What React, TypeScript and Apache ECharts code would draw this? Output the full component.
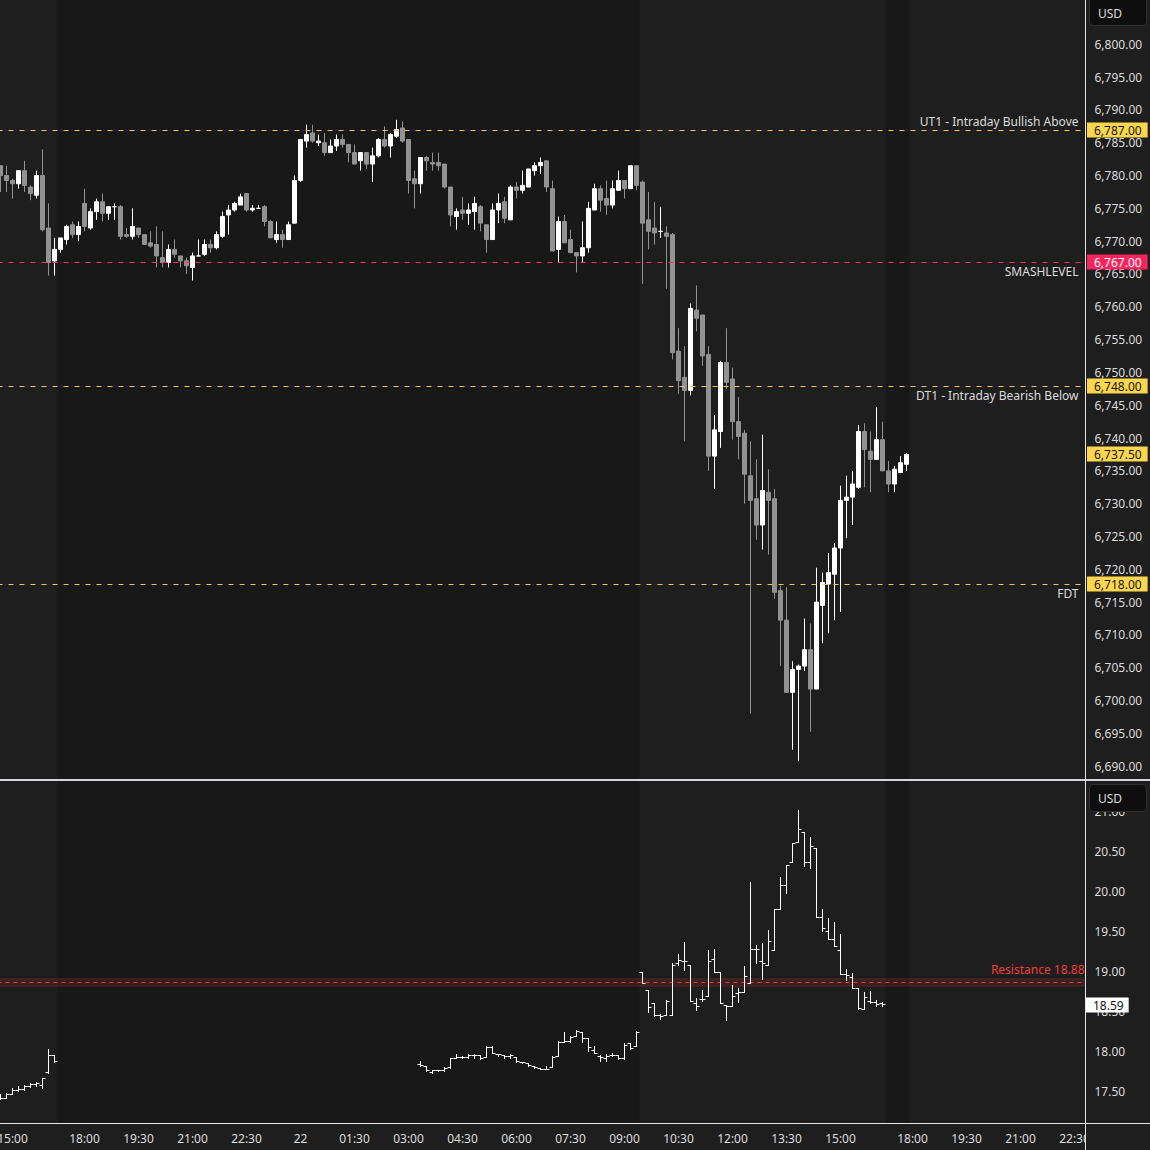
import React, { useEffect, useRef } from 'react';
import * as echarts from 'echarts';

// ---------- categories (10-minute bars) ----------
const sessions = [
  { day: '10-21', start: '14:40', bars: 14 },
  { day: '10-21', start: '18:00', bars: 36 },
  { day: '10-22', start: '00:00', bars: 102 },
  { day: '10-22', start: '18:00', bars: 29 },
];
function buildTimes(): string[] {
  const out: string[] = [];
  sessions.forEach((s) => {
    const [h, m] = s.start.split(':').map(Number);
    for (let k = 0; k < s.bars; k++) {
      const t = h * 60 + m + k * 10;
      out.push(`${s.day} ${String(Math.floor(t / 60)).padStart(2, '0')}:${String(t % 60).padStart(2, '0')}`);
    }
  });
  return out;
}
const times = buildTimes();

const xTickLabels = [
  '10-21 15:00', '10-21 18:00', '10-21 19:30', '10-21 21:00', '10-21 22:30',
  '10-22 00:00', '10-22 01:30', '10-22 03:00', '10-22 04:30', '10-22 06:00',
  '10-22 07:30', '10-22 09:00', '10-22 10:30', '10-22 12:00', '10-22 13:30',
  '10-22 15:00', '10-22 18:00', '10-22 19:30', '10-22 21:00', '10-22 22:30',
];
const esTicks = [6690, 6695, 6700, 6705, 6710, 6715, 6720, 6725, 6730, 6735, 6740, 6745, 6750, 6755, 6760, 6765, 6770, 6775, 6780, 6785, 6790, 6795, 6800, 6805];
const vixTicks = [17.5, 18, 18.5, 19, 19.5, 20, 20.5, 21];

// ---------- ES futures 10-min OHLC (from 10-21 14:40) ----------
const esOpen = [
  6781.5, 6780.0, 6779.25, 6778.75, 6780.75, 6778.25, 6777.0, 6780.0, 6772.0, 6767.0,
  6768.75, 6770.25, 6772.5, 6771.0, 6775.75, 6772.0, 6774.5, 6776.0, 6774.25, 6775.25,
  6775.25, 6771.0, 6770.75, 6772.0, 6771.0, 6769.75, 6769.5, 6767.5, 6766.75, 6768.75,
  6767.75, 6767.0, 6766.0, 6767.75, 6768.0, 6769.5, 6769.0, 6770.75, 6774.0, 6774.75,
  6775.5, 6777.25, 6774.75, 6775.0, 6775.25, 6773.0, 6770.25, 6771.0, 6770.25, 6772.75,
  6779.25, 6785.25, 6786.5, 6785.0, 6785.0, 6783.5, 6784.5, 6785.5, 6784.75, 6783.5,
  6782.25, 6783.5, 6781.75, 6783.0, 6785.5, 6784.5, 6786.0, 6787.25, 6785.5, 6779.5,
  6778.75, 6782.75, 6782.0, 6782.0, 6781.75, 6778.25, 6773.75, 6774.75, 6774.25, 6774.5,
  6775.25, 6772.5, 6770.25, 6774.75, 6776.0, 6773.25, 6778.25, 6777.75, 6778.25, 6780.75,
  6781.5, 6782.25, 6778.0, 6768.75, 6773.0, 6770.25, 6768.25, 6767.75, 6769.0, 6774.75,
  6778.0, 6776.5, 6775.5, 6777.75, 6779.25, 6778.0, 6781.5, 6779.0, 6773.25, 6772.0,
  6771.5, 6771.25, 6771.0, 6753.25, 6749.25, 6747.25, 6759.5, 6758.75, 6752.75, 6737.25,
  6741.0, 6751.5, 6749.0, 6742.5, 6740.75, 6734.25, 6730.75, 6726.75, 6731.75, 6730.75,
  6716.75, 6712.25, 6701.25, 6704.75, 6705.25, 6707.75, 6701.75, 6714.5, 6717.75, 6719.25,
  6723.25, 6730.5, 6731.0, 6732.5, 6741.0, 6738.0, 6736.75, 6739.75, 6735.0, 6733.0,
  6734.75, 6736.0,
];
const esHigh = [
  6781.5, 6781.5, 6779.5, 6780.75, 6782.25, 6778.5, 6780.75, 6784.0, 6775.75, 6770.5,
  6770.5, 6772.5, 6773.0, 6773.0, 6778.0, 6775.0, 6776.5, 6777.25, 6775.25, 6775.75,
  6775.5, 6772.0, 6775.0, 6772.0, 6771.0, 6771.5, 6772.25, 6771.5, 6769.5, 6770.25,
  6767.75, 6767.5, 6768.25, 6770.25, 6770.25, 6770.25, 6771.5, 6774.5, 6775.5, 6776.0,
  6777.25, 6777.25, 6775.5, 6775.5, 6775.5, 6773.25, 6773.0, 6771.75, 6773.0, 6780.0,
  6785.5, 6787.75, 6787.75, 6786.25, 6786.5, 6785.5, 6786.25, 6786.25, 6784.75, 6784.75,
  6783.5, 6783.5, 6784.25, 6785.75, 6787.5, 6786.5, 6788.5, 6788.25, 6785.5, 6780.75,
  6782.75, 6783.0, 6783.5, 6783.5, 6781.75, 6778.25, 6775.0, 6776.75, 6775.75, 6776.75,
  6775.5, 6772.5, 6775.75, 6777.25, 6776.75, 6778.5, 6779.0, 6780.75, 6781.0, 6782.0,
  6782.75, 6782.25, 6779.25, 6773.75, 6774.0, 6771.75, 6768.25, 6773.0, 6776.0, 6778.75,
  6778.5, 6779.25, 6779.25, 6780.75, 6779.25, 6781.5, 6781.5, 6779.25, 6777.5, 6776.0,
  6775.25, 6772.25, 6771.25, 6756.75, 6754.0, 6760.5, 6763.25, 6758.75, 6754.0, 6743.5,
  6751.75, 6756.75, 6750.75, 6746.25, 6741.25, 6739.5, 6736.75, 6740.5, 6735.25, 6732.25,
  6717.5, 6717.25, 6706.0, 6705.5, 6712.5, 6711.75, 6720.25, 6719.5, 6722.5, 6724.0,
  6732.75, 6734.25, 6735.0, 6742.0, 6742.25, 6741.0, 6744.75, 6742.5, 6736.5, 6735.75,
  6737.25, 6737.75,
];
const esLow = [
  6777.5, 6777.5, 6776.5, 6778.0, 6777.5, 6776.25, 6776.5, 6771.5, 6764.75, 6764.75,
  6768.25, 6769.5, 6770.5, 6770.0, 6771.5, 6771.75, 6773.25, 6773.0, 6773.25, 6773.25,
  6770.25, 6770.5, 6770.25, 6770.5, 6769.5, 6769.0, 6766.0, 6766.0, 6766.0, 6767.5,
  6766.0, 6765.0, 6764.0, 6767.75, 6767.75, 6768.25, 6768.75, 6770.5, 6771.0, 6774.5,
  6775.5, 6774.5, 6774.5, 6775.0, 6772.25, 6770.5, 6769.75, 6769.0, 6770.25, 6772.75,
  6779.0, 6784.25, 6785.0, 6784.5, 6783.0, 6783.5, 6783.75, 6784.25, 6782.0, 6781.75,
  6780.75, 6781.0, 6779.0, 6782.75, 6784.25, 6782.75, 6785.75, 6785.0, 6777.25, 6775.0,
  6777.25, 6780.75, 6780.75, 6780.75, 6778.0, 6772.25, 6771.75, 6773.25, 6772.5, 6771.75,
  6771.5, 6768.25, 6770.25, 6772.75, 6772.75, 6773.25, 6776.5, 6777.25, 6778.25, 6780.0,
  6780.25, 6777.5, 6768.5, 6766.75, 6769.75, 6768.25, 6765.25, 6766.75, 6768.25, 6774.75,
  6774.5, 6774.0, 6775.0, 6777.75, 6776.5, 6778.0, 6777.75, 6763.5, 6768.75, 6769.5,
  6770.5, 6762.75, 6752.0, 6746.75, 6739.5, 6746.5, 6756.25, 6751.0, 6735.0, 6732.25,
  6738.5, 6747.5, 6739.75, 6736.75, 6730.0, 6698.0, 6724.5, 6723.0, 6722.25, 6715.5,
  6705.25, 6701.25, 6692.5, 6690.75, 6704.5, 6695.25, 6701.75, 6708.75, 6710.25, 6712.25,
  6713.5, 6724.75, 6726.75, 6732.25, 6732.5, 6731.75, 6736.75, 6735.0, 6731.75, 6731.75,
  6734.75, 6735.0,
];
const esClose = [
  6780.0, 6779.25, 6778.75, 6780.75, 6778.5, 6777.25, 6780.0, 6771.75, 6766.75, 6768.75,
  6770.5, 6772.25, 6771.0, 6772.25, 6772.25, 6774.5, 6776.0, 6774.25, 6775.25, 6775.25,
  6770.75, 6770.75, 6772.25, 6771.0, 6769.5, 6769.25, 6767.75, 6766.75, 6768.75, 6768.0,
  6767.0, 6766.25, 6767.75, 6767.75, 6769.5, 6769.0, 6771.0, 6773.75, 6774.75, 6775.75,
  6776.75, 6774.75, 6775.0, 6775.0, 6773.0, 6770.5, 6771.0, 6770.25, 6772.5, 6779.25,
  6785.5, 6786.25, 6785.25, 6785.25, 6783.5, 6784.5, 6785.5, 6784.75, 6783.5, 6781.75,
  6783.5, 6781.75, 6783.0, 6785.5, 6784.5, 6786.25, 6787.0, 6785.25, 6779.25, 6778.75,
  6782.75, 6782.25, 6781.75, 6781.5, 6778.25, 6774.0, 6774.5, 6774.25, 6774.75, 6775.75,
  6772.75, 6770.25, 6774.75, 6775.75, 6773.5, 6778.25, 6777.75, 6778.5, 6781.0, 6781.5,
  6782.0, 6778.25, 6768.5, 6773.0, 6769.75, 6768.25, 6767.75, 6769.0, 6775.0, 6778.0,
  6776.25, 6775.5, 6778.0, 6779.25, 6778.0, 6781.5, 6778.5, 6772.75, 6771.5, 6771.25,
  6771.5, 6770.75, 6753.0, 6748.75, 6747.25, 6759.75, 6758.25, 6752.5, 6737.25, 6741.25,
  6751.5, 6748.5, 6742.5, 6740.25, 6734.5, 6730.5, 6726.75, 6732.0, 6730.5, 6716.5,
  6712.25, 6701.25, 6704.75, 6705.25, 6707.75, 6701.75, 6715.0, 6718.0, 6719.5, 6723.25,
  6730.5, 6731.0, 6733.0, 6741.0, 6738.25, 6736.75, 6739.75, 6735.0, 6733.0, 6735.25,
  6736.25, 6737.5,
];

// ---------- VIX 10-min OHLC, two sessions ----------
const vixAStart = '10-21 14:40';
const vixAOpen = [17.45, 17.42, 17.47, 17.52, 17.53, 17.57, 17.59, 17.58, 17.74, 17.95];
const vixAHigh = [17.46, 17.48, 17.54, 17.56, 17.58, 17.60, 17.62, 17.67, 18.03, 17.95];
const vixALow = [17.40, 17.41, 17.46, 17.50, 17.52, 17.55, 17.57, 17.54, 17.73, 17.87];
const vixAClose = [17.42, 17.47, 17.52, 17.53, 17.57, 17.59, 17.60, 17.66, 17.95, 17.88];

const vixBStart = '10-22 03:20';
const vixBOpen = [
  17.84, 17.81, 17.74, 17.76, 17.76, 17.80, 17.92, 17.93, 17.93, 17.95,
  17.95, 17.93, 18.05, 17.96, 17.95, 17.94, 17.93, 17.87, 17.85, 17.81,
  17.79, 17.78, 17.80, 17.94, 18.12, 18.13, 18.19, 18.24, 18.16, 18.02,
  17.94, 17.92, 17.95, 17.95, 17.91, 18.10, 18.06, 18.99, 18.77, 18.60,
  18.45, 18.45, 18.45, 19.10, 19.13, 19.08, 18.60, 18.65, 18.69, 19.15,
  18.99, 18.58, 18.56, 18.73, 18.74, 18.85, 19.28, 19.13, 19.08, 19.26,
  19.78, 20.08, 20.36, 20.61, 20.74, 20.36, 20.54, 19.68, 19.50, 19.40,
  19.27, 18.97, 18.93, 18.79, 18.53, 18.63, 18.61, 18.60,
];
const vixBHigh = [
  17.88, 17.81, 17.76, 17.76, 17.80, 17.92, 17.96, 17.94, 17.96, 17.97,
  17.95, 18.06, 18.06, 17.97, 17.95, 17.96, 17.93, 17.87, 17.85, 17.81,
  17.79, 17.81, 17.94, 18.13, 18.24, 18.19, 18.26, 18.24, 18.16, 18.06,
  17.95, 17.96, 17.98, 17.95, 18.10, 18.10, 18.25, 18.99, 18.77, 18.60,
  18.46, 18.64, 19.10, 19.21, 19.37, 19.08, 18.67, 18.76, 19.27, 19.28,
  18.99, 18.58, 18.83, 18.79, 19.07, 20.12, 19.33, 19.35, 19.52, 19.78,
  20.18, 20.33, 20.60, 21.01, 20.74, 20.68, 20.54, 19.78, 19.67, 19.61,
  19.47, 19.03, 18.98, 18.79, 18.74, 18.75, 18.64, 18.62,
];
const vixBLow = [
  17.81, 17.75, 17.73, 17.75, 17.75, 17.79, 17.92, 17.92, 17.92, 17.92,
  17.90, 17.93, 17.98, 17.94, 17.92, 17.92, 17.86, 17.85, 17.81, 17.79,
  17.78, 17.78, 17.80, 17.94, 18.12, 18.11, 18.19, 18.12, 18.00, 17.98,
  17.88, 17.88, 17.94, 17.90, 17.90, 18.03, 18.06, 18.85, 18.49, 18.44,
  18.40, 18.45, 18.45, 19.08, 19.01, 18.63, 18.52, 18.63, 18.69, 18.99,
  18.60, 18.39, 18.56, 18.61, 18.74, 18.85, 19.10, 18.90, 19.08, 19.26,
  19.78, 19.98, 20.36, 20.61, 20.32, 20.29, 19.68, 19.50, 19.40, 19.31,
  18.96, 18.89, 18.79, 18.53, 18.53, 18.60, 18.57, 18.57,
];
const vixBClose = [
  17.83, 17.76, 17.76, 17.76, 17.79, 17.91, 17.93, 17.93, 17.95, 17.95,
  17.92, 18.05, 17.98, 17.97, 17.94, 17.95, 17.88, 17.86, 17.83, 17.80,
  17.78, 17.78, 17.93, 18.12, 18.13, 18.18, 18.25, 18.16, 18.05, 17.98,
  17.93, 17.94, 17.95, 17.91, 18.08, 18.04, 18.24, 18.85, 18.55, 18.45,
  18.44, 18.63, 19.08, 19.14, 19.13, 18.63, 18.56, 18.65, 19.13, 18.99,
  18.60, 18.56, 18.69, 18.74, 18.94, 19.28, 19.28, 19.10, 19.38, 19.78,
  20.08, 20.33, 20.60, 20.78, 20.36, 20.57, 19.68, 19.54, 19.40, 19.31,
  18.97, 18.95, 18.79, 18.54, 18.68, 18.61, 18.59, 18.59,
];

// ---------- levels ----------
const levelValues = [6787, 6767, 6748, 6718];
const levelNames = ['UT1 - Intraday Bullish Above', 'SMASHLEVEL', 'DT1 - Intraday Bearish Below', 'FDT'];
const resistanceValue = 18.88;
const resistanceBand = [18.82, 18.91];

// ---------- styles ----------
const BG = '#1e1e1e';
const BG_ETH = '#181818';
const TXT = '#dcdcdc';
const FONT = 'Noto Sans';
const YELLOW_LINE = '#f2c94c';
const YELLOW_BOX = '#fdd64f';
const RED_LINE = '#f5325f';
const RED_BOX = '#f7245d';
const RES_RED = '#f23b3b';
const UP = '#ffffff';
const DOWN = '#929292';

const fmtES = (v: number) => v.toLocaleString('en-US', { minimumFractionDigits: 2, maximumFractionDigits: 2 });
const fmtVIX = (v: number) => v.toFixed(2);
const crisp = (y: number) => Math.round(y - 0.5) + 0.5;
const crispDown = (y: number) => Math.floor(y) + 0.5;
const crispUp = (y: number) => Math.ceil(y) + 0.5;

function darkRuns(): number[][] {
  const runs: number[][] = [];
  let start = -1;
  for (let i = 0; i <= times.length; i++) {
    const t = i < times.length ? times[i].slice(6) : '';
    const dark = i < esOpen.length && (t < '09:30' || t >= '16:20');
    if (dark && start < 0) start = i;
    if (!dark && start >= 0) { runs.push([start, i - 1]); start = -1; }
  }
  return runs;
}

function vixData() {
  const out: number[][] = [];
  const a = times.indexOf(vixAStart);
  vixAOpen.forEach((o, k) => out.push([a + k, o, vixAHigh[k], vixALow[k], vixAClose[k]]));
  const b = times.indexOf(vixBStart);
  vixBOpen.forEach((o, k) => out.push([b + k, o, vixBHigh[k], vixBLow[k], vixBClose[k]]));
  return out;
}

const bgRender = (params: any, api: any) => {
  const a = api.value(0);
  const b = api.value(1);
  const w = api.size([1, 0])[0];
  const x0 = api.coord([a, 0])[0] - w / 2;
  const x1 = api.coord([b, 0])[0] + w / 2;
  const cs = params.coordSys;
  return {
    type: 'rect',
    shape: { x: x0, y: cs.y, width: x1 - x0, height: cs.height },
    style: { fill: BG_ETH },
    silent: true,
  };
};

const barRender = (_params: any, api: any) => {
  const i = api.value(0);
  const o = api.coord([i, api.value(1)]);
  const h = api.coord([i, api.value(2)]);
  const l = api.coord([i, api.value(3)]);
  const c = api.coord([i, api.value(4)]);
  const x = Math.round(o[0] - 0.5) + 0.5;
  const st = { stroke: '#ffffff', lineWidth: 1 };
  return {
    type: 'group',
    children: [
      { type: 'line', shape: { x1: x, y1: crisp(h[1]) - 0.5, x2: x, y2: crisp(l[1]) + 0.5 }, style: st },
      { type: 'line', shape: { x1: x - 3, y1: crisp(o[1]), x2: x, y2: crisp(o[1]) }, style: st },
      { type: 'line', shape: { x1: x, y1: crisp(c[1]), x2: x + 3, y2: crisp(c[1]) }, style: st },
    ],
  };
};

// level line: dashed line across the pane with a right-aligned caption
const levelRender = (params: any, api: any) => {
  const k = params.dataIndex;
  const y = crispDown(api.coord([0, api.value(1)])[1]);
  const cs = params.coordSys;
  const above = k === 0;
  return {
    type: 'group',
    children: [
      {
        type: 'line',
        shape: { x1: cs.x, y1: y, x2: cs.x + cs.width + 2, y2: y },
        style: { stroke: k === 1 ? RED_LINE : YELLOW_LINE, lineWidth: 1, lineDash: [5, 6] },
      },
      {
        type: 'text',
        x: cs.x + cs.width - 5,
        y: above ? y - 3 : y + 3,
        style: {
          text: levelNames[k], fill: TXT, fontSize: 12, fontFamily: FONT,
          align: 'right', verticalAlign: above ? 'bottom' : 'top',
        },
      },
    ],
  };
};

const resistanceRender = (params: any, api: any) => {
  const v = api.value(1);
  const y = crispUp(api.coord([0, v])[1]);
  const cs = params.coordSys;
  return {
    type: 'group',
    children: [
      {
        type: 'line',
        shape: { x1: cs.x, y1: y, x2: cs.x + cs.width + 2, y2: y },
        style: { stroke: RES_RED, lineWidth: 1, lineDash: [4, 4] },
      },
      {
        type: 'text',
        x: cs.x + cs.width + 1,
        y: y - 7,
        style: {
          text: `Resistance ${v.toFixed(2)}`, fill: RES_RED, fontSize: 12, fontFamily: FONT,
          align: 'right', verticalAlign: 'bottom',
        },
      },
    ],
  };
};

function buildOption() {
  const runs = darkRuns();
  const tickSet = new Set(xTickLabels);
  const axisLabelBase = { color: TXT, fontSize: 12, fontFamily: FONT };

  return {
    animation: false,
    backgroundColor: BG,
    grid: [
      { left: -2.5, top: 0, width: 1086, height: 779, containLabel: false, outerBoundsMode: 'none' },
      { left: -2.5, top: 781, width: 1086, height: 342, containLabel: false, outerBoundsMode: 'none' },
    ],
    xAxis: [
      { type: 'category', data: times, gridIndex: 0, show: false },
      {
        type: 'category', data: times, gridIndex: 1,
        axisLine: { show: false }, axisTick: { show: false }, splitLine: { show: false },
        axisLabel: {
          ...axisLabelBase,
          margin: 9,
          interval: (_i: number, val: string) => tickSet.has(val),
          formatter: (val: string) => (val.slice(6) === '00:00' ? val.slice(3, 5) : val.slice(6)),
        },
      },
    ],
    yAxis: [
      {
        type: 'value', gridIndex: 0, position: 'right', min: 6688.05, max: 6806.75,
        splitLine: { show: false }, axisLine: { show: false }, axisTick: { show: false },
        axisLabel: { ...axisLabelBase, margin: 11, customValues: esTicks, formatter: (v: number) => fmtES(v) },
      },
      {
        type: 'value', gridIndex: 1, position: 'right', min: 17.109, max: 21.384,
        splitLine: { show: false }, axisLine: { show: false }, axisTick: { show: false },
        axisLabel: { ...axisLabelBase, margin: 11, customValues: vixTicks, formatter: (v: number) => fmtVIX(v) },
      },
      // price scale of the drawn level lines (same pane, tick labels sit ~1px above their lines)
      { type: 'value', gridIndex: 0, position: 'right', min: 6688.3764, max: 6806.8555, show: false },
    ],
    series: [
      {
        type: 'custom', name: 'sessionTop', xAxisIndex: 0, yAxisIndex: 0, z: 0, silent: true,
        renderItem: bgRender, data: runs, encode: { x: [0, 1] }, clip: false,
      },
      {
        type: 'custom', name: 'sessionBottom', xAxisIndex: 1, yAxisIndex: 1, z: 0, silent: true,
        renderItem: bgRender, data: runs, encode: { x: [0, 1] }, clip: false,
      },
      {
        type: 'candlestick', name: 'ES', xAxisIndex: 0, yAxisIndex: 0, barWidth: 4, z: 3, clip: false,
        data: esOpen.map((o, i) => [o, esClose[i], esLow[i], esHigh[i]]),
        itemStyle: { color: UP, color0: DOWN, borderColor: UP, borderColor0: DOWN, borderWidth: 1 },
      },
      {
        type: 'custom', name: 'levels', xAxisIndex: 0, yAxisIndex: 2, z: 4, silent: true, clip: false,
        renderItem: levelRender, data: levelValues.map((v) => [0, v]), encode: { x: 0, y: 1 },
      },
      {
        type: 'line', name: 'resistanceZone', xAxisIndex: 1, yAxisIndex: 1, data: [], showSymbol: false, z: 2, clip: false,
        markArea: {
          silent: true,
          itemStyle: { color: 'rgba(255,50,50,0.12)', borderColor: 'rgba(255,60,60,0.22)', borderWidth: 1 },
          data: [[{ yAxis: resistanceBand[0] }, { yAxis: resistanceBand[1] }]],
        },
      },
      {
        type: 'custom', name: 'resistance', xAxisIndex: 1, yAxisIndex: 1, z: 3, silent: true, clip: false,
        renderItem: resistanceRender, data: [[0, resistanceValue]], encode: { x: 0, y: 1 },
      },
      {
        type: 'custom', name: 'VIX', xAxisIndex: 1, yAxisIndex: 1, z: 4,
        renderItem: barRender, data: vixData(), encode: { x: 0, y: [1, 2, 3, 4] },
      },
    ],
  };
}

function baseGraphic() {
  return [
    { type: 'rect', z: 100, shape: { x: 1086, y: 1124, width: 64, height: 26 }, style: { fill: BG } },
    { type: 'line', z: 101, shape: { x1: 0, y1: 780, x2: 1150, y2: 780 }, style: { stroke: '#d4d4dc', lineWidth: 2 } },
    { type: 'line', z: 101, shape: { x1: 1085.5, y1: 0, x2: 1085.5, y2: 1150 }, style: { stroke: '#e6e6e6', lineWidth: 1 } },
    { type: 'line', z: 101, shape: { x1: 0, y1: 1123.5, x2: 1150, y2: 1123.5 }, style: { stroke: '#e6e6e6', lineWidth: 1 } },
    { type: 'rect', z: 100, shape: { x: 1089.5, y: -5.5, width: 57, height: 31, r: 4 }, style: { fill: '#0e0e0e', stroke: '#303030', lineWidth: 1 } },
    { type: 'text', z: 101, x: 1098, y: 13, style: { text: 'USD', fill: TXT, fontSize: 12, fontFamily: FONT, verticalAlign: 'middle' } },
    { type: 'rect', z: 100, shape: { x: 1089.5, y: 784.5, width: 57, height: 27, r: 4 }, style: { fill: '#0e0e0e', stroke: '#303030', lineWidth: 1 } },
    { type: 'text', z: 101, x: 1098, y: 798, style: { text: 'USD', fill: TXT, fontSize: 12, fontFamily: FONT, verticalAlign: 'middle' } },
  ];
}

function priceBoxes(chart: any) {
  const lastES = esClose[esClose.length - 1];
  const lastVIX = vixBClose[vixBClose.length - 1];
  const esVals = [...levelValues, lastES];
  const els: any[] = esVals.map((v, k) => ({
    type: 'text', z: 102, x: 1087,
    y: Math.floor(chart.convertToPixel({ yAxisIndex: k < levelValues.length ? 2 : 0 }, v)),
    style: {
      text: fmtES(v), fill: k === 1 ? '#ffffff' : '#161616',
      backgroundColor: k === 1 ? RED_BOX : YELLOW_BOX, padding: [2, 6, 1, 7],
      fontSize: 12, fontFamily: FONT, verticalAlign: 'middle',
    },
  }));
  els.push({
    type: 'text', z: 102, x: 1086,
    y: Math.round(chart.convertToPixel({ yAxisIndex: 1 }, lastVIX)),
    style: {
      text: fmtVIX(lastVIX), fill: '#111111', backgroundColor: '#ffffff', padding: [2, 5, 1, 7],
      fontSize: 12, fontFamily: FONT, verticalAlign: 'middle',
    },
  });
  return els;
}

export default function App() {
  const ref = useRef<HTMLDivElement>(null);
  useEffect(() => {
    document.body.style.margin = '0';
    document.body.style.background = BG;
    const chart = echarts.init(ref.current!, undefined, { renderer: 'svg' });
    chart.setOption(buildOption() as any);
    chart.setOption({ graphic: [...baseGraphic(), ...priceBoxes(chart)] } as any);
    return () => chart.dispose();
  }, []);
  return <div ref={ref} style={{ position: 'fixed', left: 0, top: 0, width: 1150, height: 1150 }} />;
}
